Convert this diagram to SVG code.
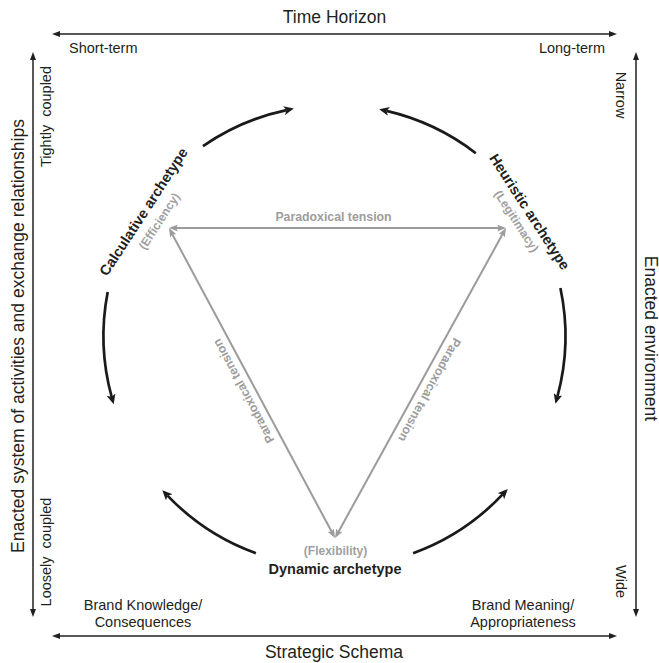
<svg xmlns="http://www.w3.org/2000/svg" width="659" height="663" viewBox="0 0 659 663">
<style>
  text { font-family: "Liberation Sans", Arial, sans-serif; fill: #231f20; }
  .title { font-size: 17.5px; }
  .lab { font-size: 14.5px; }
  .arch { font-size: 14.5px; font-weight: bold; }
  .sub { font-size: 12px; font-weight: bold; fill: #a0a0a0; }
  .ten { font-size: 12.3px; font-weight: bold; fill: #9d9d9d; }
  .axis { stroke: #231f20; stroke-width: 1.5; fill: none; marker-start: url(#ax); marker-end: url(#ax); }
  .cyc { stroke: #1a1a1a; stroke-width: 2.7; fill: none; marker-end: url(#bk); }
  .tri { stroke: #9b9b9b; stroke-width: 2; fill: none; marker-start: url(#gr); marker-end: url(#gr); }
</style>
<defs>
  <marker id="ax" markerUnits="userSpaceOnUse" markerWidth="8" markerHeight="6" refX="1" refY="3" orient="auto-start-reverse">
    <path d="M0,0 L8,3 L0,6 z" fill="#231f20"/>
  </marker>
  <marker id="bk" markerUnits="userSpaceOnUse" markerWidth="10" markerHeight="9" refX="2.5" refY="4.5" orient="auto">
    <path d="M0,0 L10,4.5 L0,9 L2.5,4.5 z" fill="#1a1a1a"/>
  </marker>
  <marker id="gr" markerUnits="userSpaceOnUse" markerWidth="9" markerHeight="7" refX="2" refY="3.5" orient="auto-start-reverse">
    <path d="M0,0 L9,3.5 L0,7 L2,3.5 z" fill="#9b9b9b"/>
  </marker>
</defs>

<g id="axes">
  <line class="axis" x1="59" y1="34" x2="610" y2="34"/>
  <line class="axis" x1="59" y1="636" x2="610" y2="636"/>
  <line class="axis" x1="33" y1="59" x2="33" y2="610"/>
  <line class="axis" x1="636" y1="59" x2="636" y2="610"/>
  <text class="title" x="334.5" y="23" text-anchor="middle">Time Horizon</text>
  <text class="lab" x="69" y="53">Short-term</text>
  <text class="lab" x="605" y="53" text-anchor="end">Long-term</text>
  <text class="title" x="334" y="658" text-anchor="middle">Strategic Schema</text>
  <text class="lab" x="143" y="610" text-anchor="middle">Brand Knowledge/</text>
  <text class="lab" x="143" y="627" text-anchor="middle">Consequences</text>
  <text class="lab" x="523" y="610" text-anchor="middle">Brand Meaning/</text>
  <text class="lab" x="523" y="627" text-anchor="middle">Appropriateness</text>
  <text class="lab" transform="translate(51,116.5) rotate(-90)" text-anchor="middle" word-spacing="4">Tightly coupled</text>
  <text class="lab" transform="translate(51,552) rotate(-90)" text-anchor="middle" word-spacing="4">Loosely coupled</text>
  <text class="title" transform="translate(24,336) rotate(-90)" text-anchor="middle">Enacted system of activities and exchange relationships</text>
  <text class="lab" transform="translate(616,95) rotate(90)" text-anchor="middle">Narrow</text>
  <text class="lab" transform="translate(616,581.5) rotate(90)" text-anchor="middle">Wide</text>
  <text class="title" transform="translate(644.5,338.5) rotate(90)" text-anchor="middle">Enacted environment</text>
</g>

<g id="calculative">
  <text class="arch" transform="translate(147.7,214.6) rotate(-57)" text-anchor="middle">Calculative archetype</text>
  <text class="sub" transform="translate(162.7,223.4) rotate(-57)" text-anchor="middle">(Efficiency)</text>
</g>
<g id="heuristic">
  <text class="arch" transform="translate(525.5,214.5) rotate(57)" text-anchor="middle">Heuristic archetype</text>
  <text class="sub" transform="translate(513.1,223.4) rotate(57)" text-anchor="middle">(Legitimacy)</text>
</g>
<g id="dynamic">
  <text class="sub" x="335.5" y="555" text-anchor="middle">(Flexibility)</text>
  <text class="arch" x="335" y="574" text-anchor="middle">Dynamic archetype</text>
</g>

<g id="connectors">
  <path class="cyc" d="M203,146.1 A231,231 0 0 1 286.5,110.1"/>
  <path class="cyc" d="M475.8,153.2 A231,231 0 0 0 386.5,110.9"/>
  <path class="cyc" d="M107.7,291.9 A231,231 0 0 0 111.7,397"/>
  <path class="cyc" d="M560.4,288 A231,231 0 0 1 557.4,396.6"/>
  <path class="cyc" d="M255.9,553.2 A231,231 0 0 1 167.5,495.6"/>
  <path class="cyc" d="M413.1,553.2 A231,231 0 0 0 502.6,494.4"/>
  <line class="tri" x1="176" y1="228" x2="499" y2="228"/>
  <line class="tri" x1="331.7" y1="531.8" x2="172.3" y2="234.2"/>
  <line class="tri" x1="338.4" y1="531.9" x2="502.6" y2="234.1"/>
  <text class="ten" x="333.5" y="221" text-anchor="middle">Paradoxical tension</text>
  <text class="ten" transform="translate(253.4,385.8) rotate(-118.2)" y="-7" text-anchor="middle">Paradoxical tension</text>
  <text class="ten" transform="translate(419.7,384.5) rotate(118.9)" y="-7" text-anchor="middle">Paradoxical tension</text>
</g>
</svg>
